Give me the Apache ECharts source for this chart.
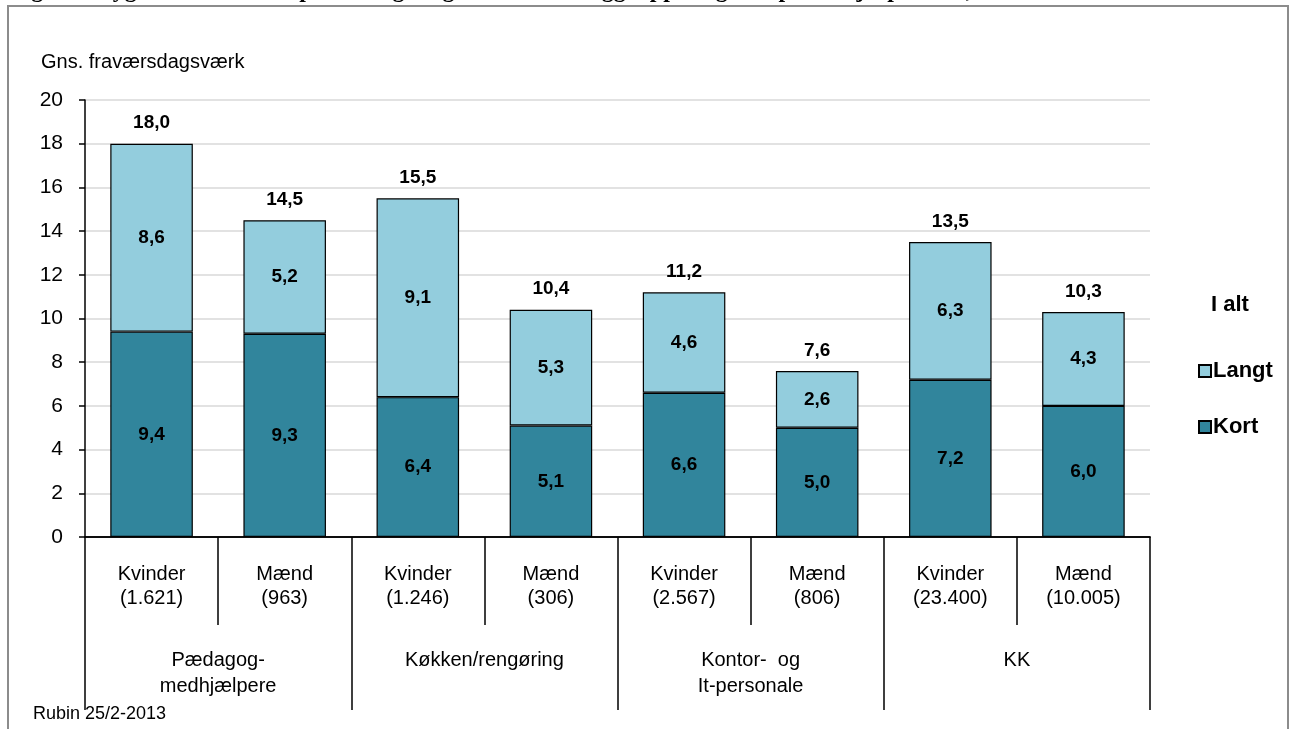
<!DOCTYPE html>
<html>
<head>
<meta charset="utf-8">
<script src="https://cdn.jsdelivr.net/npm/echarts@6/dist/echarts.min.js"></script>
<style>html,body{margin:0;padding:0;background:#fff}#c{width:1295px;height:729px}</style>
</head>
<body>
<div id="c"></div>
<script>
const categories = ['Kvinder\n(1.621)','Mænd\n(963)','Kvinder\n(1.246)','Mænd\n(306)','Kvinder\n(2.567)','Mænd\n(806)','Kvinder\n(23.400)','Mænd\n(10.005)'];
const groups = ['Pædagog-\nmedhjælpere','Køkken/rengøring','Kontor-  og\nIt-personale','KK'];
const kort = [9.4, 9.3, 6.4, 5.1, 6.6, 5.0, 7.2, 6.0];
const langt = [8.6, 5.2, 9.1, 5.3, 4.6, 2.6, 6.3, 4.3];
const iAlt = [18.0, 14.5, 15.5, 10.4, 11.2, 7.6, 13.5, 10.3];
const yTicks = [0, 20, 2];

const fmt = p => p.value.toFixed(1).replace('.', ',');
const FONT = 'Liberation Sans, Arial, sans-serif';
const chart = echarts.init(document.getElementById('c'));
chart.setOption({
  animation: false,
  backgroundColor: '#fff',
  textStyle: {fontFamily: FONT, color: '#000'},
  grid: {left: 85, right: 145, top: 100, bottom: 192, containLabel: false},
  title: {text: 'Gns. fraværsdagsværk', left: 36, top: 47,
    textStyle: {fontFamily: FONT, fontSize: 20, fontWeight: 'normal', color: '#000'}},
  legend: {
    data: ['Langt', 'Kort'], orient: 'vertical', left: 1193, top: 355,
    itemWidth: 12, itemHeight: 12, itemGap: 34, icon: 'rect',
    textStyle: {fontFamily: FONT, fontSize: 22, fontWeight: 'bold', color: '#000', padding: [0,0,0,-3]}
  },
  graphic: [
    {type: 'rect', shape: {x: 8, y: 6, width: 1280, height: 760}, style: {fill: 'none', stroke: '#8c8c8c', lineWidth: 2}, silent: true, z: 100},
    {type: 'text', left: 1211, top: 294, style: {text: 'I alt', font: 'bold 22px Liberation Sans, Arial', fill: '#000'}},
    {type: 'text', left: 33, top: 705, style: {text: 'Rubin 25/2-2013', font: '18px Liberation Sans, Arial', fill: '#000'}, z: 50},
    {type: 'text', x: 10, y: -21, style: {text: 'Figur 5: Sygefravær fordelt på kort og langt fravær for faggrupper og køn på arbejdspladsen, 2012', font: 'bold 24px Liberation Serif, Times New Roman, serif', fill: '#000', verticalAlign: 'top'}}
  ],
  xAxis: [
    {type: 'category', data: categories, position: 'bottom',
      axisLine: {lineStyle: {color: '#000', width: 1.5}},
      axisTick: {show: true, length: 88, interval: 0, lineStyle: {color: '#000', width: 1.5}},
      axisLabel: {interval: 0, fontSize: 20, lineHeight: 24, margin: 25, color: '#000', fontFamily: FONT}},
    {type: 'category', data: groups, position: 'bottom',
      axisLine: {show: true, lineStyle: {color: '#000', width: 1.5}},
      axisTick: {show: true, length: 173, interval: 0, lineStyle: {color: '#000', width: 1.5}},
      axisLabel: {interval: 0, fontSize: 20, lineHeight: 26, margin: 110, color: '#000', fontFamily: FONT}}
  ],
  yAxis: {type: 'value', min: yTicks[0], max: yTicks[1], interval: yTicks[2],
    axisLine: {show: true, lineStyle: {color: '#000', width: 1.5}},
    axisTick: {show: true, length: 6, lineStyle: {color: '#000', width: 1.5}},
    axisLabel: {fontSize: 21, color: '#000', margin: 22, fontFamily: FONT},
    splitLine: {lineStyle: {color: '#d9d9d9', width: 1.5}}},
  series: [
    {name: 'Kort', type: 'bar', stack: 'a', data: kort, barWidth: '62%',
      itemStyle: {color: '#31859c', borderColor: '#000', borderWidth: 1.2},
      label: {show: true, position: 'inside', formatter: fmt, fontSize: 19, fontWeight: 'bold', color: '#000', fontFamily: FONT}},
    {name: 'Langt', type: 'bar', stack: 'a', data: langt, barWidth: '62%',
      itemStyle: {color: '#93cddd', borderColor: '#000', borderWidth: 1.2},
      label: {show: true, position: 'inside', formatter: fmt, fontSize: 19, fontWeight: 'bold', color: '#000', fontFamily: FONT}},
    {name: 'I alt', type: 'bar', data: iAlt, barWidth: '62%', barGap: '-100%', z: 1,
      itemStyle: {color: 'rgba(0,0,0,0)'}, silent: true,
      label: {show: true, position: 'top', distance: 11, formatter: fmt, fontSize: 19, fontWeight: 'bold', color: '#000', fontFamily: FONT}}
  ]
});
</script>
</body>
</html>
